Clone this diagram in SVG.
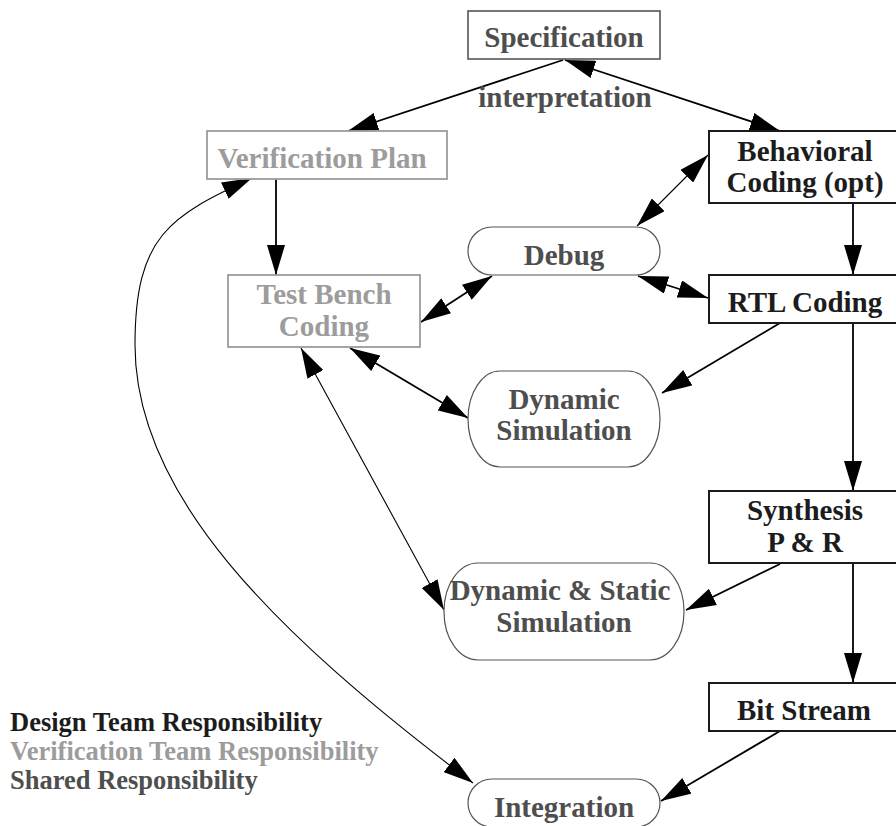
<svg xmlns="http://www.w3.org/2000/svg" width="896" height="826" viewBox="0 0 896 826">
  <defs>
    <style>
      .t { font-family: "Liberation Serif", "Times New Roman", serif; font-weight: bold; font-size: 29px; text-anchor: middle; }
      .legend { font-family: "Liberation Serif", "Times New Roman", serif; font-weight: bold; font-size: 26.5px; text-anchor: start; }
      .design { fill: #1c1c1c; }
      .verif { fill: #9c9c9c; }
      .shared { fill: #4e4e4e; }
      .box-d { fill: #fff; stroke: #1a1a1a; stroke-width: 2; }
      .box-v { fill: #fff; stroke: #9c9c9c; stroke-width: 1.8; }
      .box-s { fill: #fff; stroke: #555; stroke-width: 1.6; }
      .pill { fill: #fff; stroke: #555; stroke-width: 1.2; }
      .c { fill: none; stroke: #000; stroke-width: 1.8; }
      .thin { stroke-width: 1.1; }
      .end { marker-end: url(#head); }
      .both { marker-start: url(#head); marker-end: url(#head); }
    </style>
    <marker id="head" viewBox="0 0 30 18" refX="30" refY="9" markerWidth="30" markerHeight="18" markerUnits="userSpaceOnUse" orient="auto-start-reverse">
      <path d="M0,0 L30,9 L0,18 z" fill="#000"/>
    </marker>
  </defs>

  <rect width="896" height="826" fill="#fff"/>

  <!-- connectors -->
  <g id="connectors">
    <path class="c end" d="M563,60 L348,131"/>
    <path class="c both" d="M565,60 L780,131"/>
    <path class="c end" d="M276,179 L276,275"/>
    <path class="c end" d="M853,203 L853,275"/>
    <path class="c end" d="M853,323 L853,491"/>
    <path class="c end" d="M853,563 L853,683"/>
    <path class="c thin both" d="M637,226 L708,155"/>
    <path class="c both" d="M638,276 L708,298"/>
    <path class="c both" d="M492,276 L421,322"/>
    <path class="c end" d="M780,323 L662,393"/>
    <path class="c both" d="M350,348 L468,418"/>
    <path class="c thin both" d="M301,348 L444,610"/>
    <path class="c end" d="M780,564 L686,610"/>
    <path class="c end" d="M780,731 L661,801"/>
    <path class="c thin both" d="M252,178 C170.5,216 135,235 135,345 C135,495 273.5,632.5 473,783"/>
  </g>

  <g id="specification">
    <rect class="box-s" x="468" y="11" width="192" height="48"/>
    <text class="t shared" x="564" y="47">Specification</text>
  </g>

  <g id="interpretation-label">
    <text class="t shared" x="565" y="107">interpretation</text>
  </g>

  <g id="verification-plan">
    <rect class="box-v" x="207" y="131" width="240" height="48"/>
    <text class="t verif" x="322" y="167.5">Verification Plan</text>
  </g>

  <g id="behavioral-coding">
    <rect class="box-d" x="709" y="131" width="192" height="72"/>
    <text class="t design" x="805" y="160.5">Behavioral</text>
    <text class="t design" x="805" y="191.5">Coding (opt)</text>
  </g>

  <g id="debug">
    <rect class="pill" x="468" y="227" width="192" height="48" rx="24" ry="24"/>
    <text class="t shared" x="564" y="265">Debug</text>
  </g>

  <g id="test-bench-coding">
    <rect class="box-v" x="228" y="275" width="192" height="72"/>
    <text class="t verif" x="324" y="304">Test Bench</text>
    <text class="t verif" x="324" y="336">Coding</text>
  </g>

  <g id="rtl-coding">
    <rect class="box-d" x="709" y="275" width="192" height="48"/>
    <text class="t design" x="805" y="311.5">RTL Coding</text>
  </g>

  <g id="dynamic-simulation">
    <rect class="pill" x="468" y="371" width="192" height="96" rx="32" ry="48"/>
    <text class="t shared" x="564" y="408.5">Dynamic</text>
    <text class="t shared" x="564" y="440">Simulation</text>
  </g>

  <g id="synthesis">
    <rect class="box-d" x="709" y="491" width="192" height="72"/>
    <text class="t design" x="805" y="520">Synthesis</text>
    <text class="t design" x="805" y="551.5">P &amp; R</text>
  </g>

  <g id="dynamic-static-simulation">
    <rect class="pill" x="444" y="563" width="240" height="97" rx="34" ry="48"/>
    <text class="t shared" x="560" y="600">Dynamic &amp; Static</text>
    <text class="t shared" x="564" y="631.5">Simulation</text>
  </g>

  <g id="bit-stream">
    <rect class="box-d" x="709" y="683" width="192" height="48"/>
    <text class="t design" x="804" y="720">Bit Stream</text>
  </g>

  <g id="integration">
    <rect class="pill" x="468" y="779" width="192" height="48" rx="24" ry="24"/>
    <text class="t shared" x="564" y="816.5">Integration</text>
  </g>

  <g id="legend">
    <text class="legend design" x="10" y="731">Design Team Responsibility</text>
    <text class="legend verif" x="10" y="760">Verification Team Responsibility</text>
    <text class="legend shared" x="10" y="789">Shared Responsibility</text>
  </g>
</svg>
